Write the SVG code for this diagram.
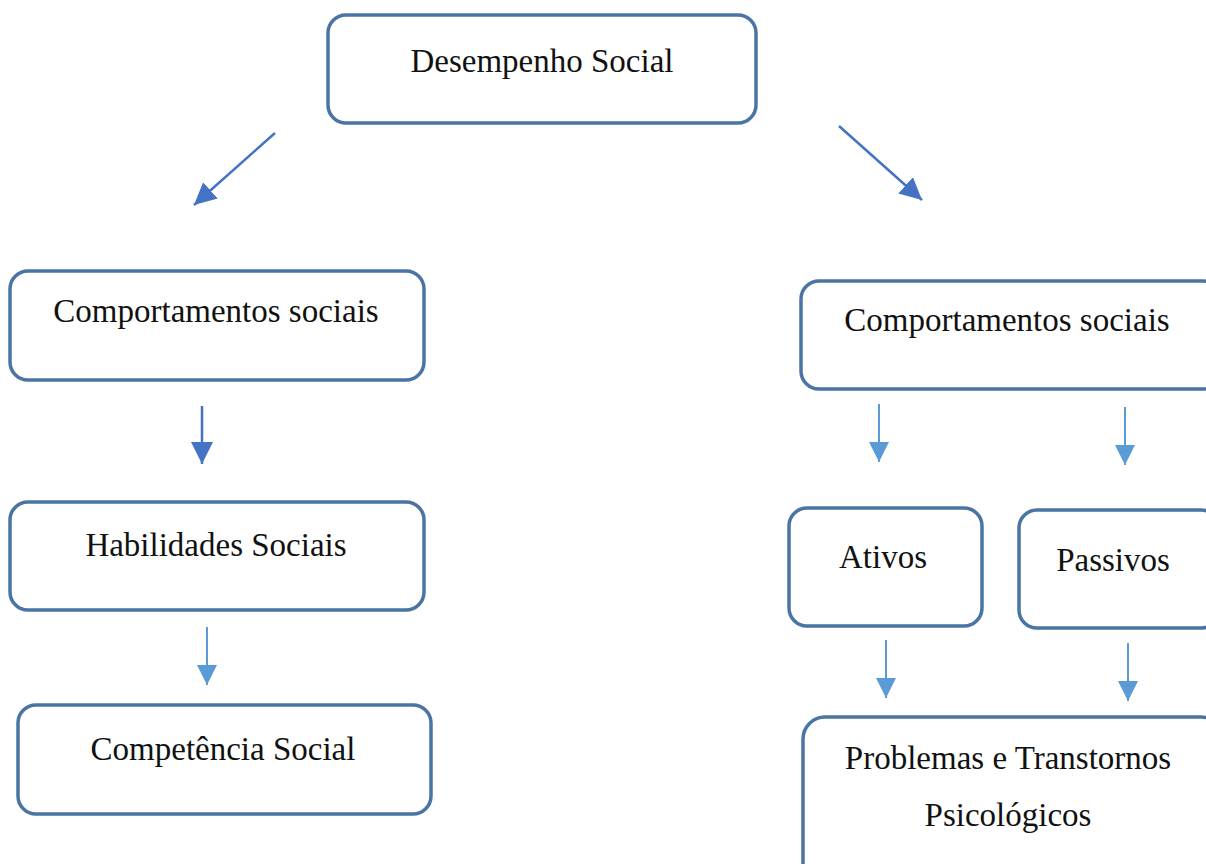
<svg xmlns="http://www.w3.org/2000/svg" width="1206" height="864" viewBox="0 0 1206 864">
<style>
.box{fill:#fff;stroke:#4a74a4;stroke-width:3.5}
.t{font-family:"Liberation Serif","Times New Roman",serif;font-size:33px;fill:#111;text-anchor:middle}
.a1{stroke:#4472c4;stroke-width:2.5;fill:none}
.a2{stroke:#5b9bd5;stroke-width:2;fill:none}
</style>
<defs>
<marker id="h1" viewBox="0 0 10 10" refX="10" refY="5" markerUnits="userSpaceOnUse" markerWidth="22" markerHeight="22" orient="auto"><path d="M0,0 L10,5 L0,10 z" fill="#4472c4"/></marker>
<marker id="h2" viewBox="0 0 10 10" refX="10" refY="5" markerUnits="userSpaceOnUse" markerWidth="20" markerHeight="20" orient="auto"><path d="M0,0 L10,5 L0,10 z" fill="#5b9bd5"/></marker>
</defs>
<rect width="1206" height="864" fill="#fff"/>
<g id="n-desempenho"><rect class="box" x="328" y="15" width="428" height="108" rx="18"/><text class="t" x="542" y="72">Desempenho Social</text></g>
<g id="n-comp-left"><rect class="box" x="10" y="271" width="414" height="109" rx="18"/><text class="t" x="216" y="322">Comportamentos sociais</text></g>
<g id="n-habilidades"><rect class="box" x="10" y="502" width="414" height="108" rx="18"/><text class="t" x="216" y="556">Habilidades Sociais</text></g>
<g id="n-competencia"><rect class="box" x="18" y="705" width="413" height="109" rx="18"/><text class="t" x="223" y="760">Competência Social</text></g>
<g id="n-comp-right"><rect class="box" x="801" y="281" width="420" height="108" rx="18"/><text class="t" x="1007" y="331">Comportamentos sociais</text></g>
<g id="n-ativos"><rect class="box" x="789" y="508" width="193" height="118" rx="18"/><text class="t" x="883" y="568">Ativos</text></g>
<g id="n-passivos"><rect class="box" x="1019" y="510" width="200" height="118" rx="18"/><text class="t" x="1113" y="571">Passivos</text></g>
<g id="n-problemas"><rect class="box" x="803" y="717" width="420" height="170" rx="22"/><text class="t" x="1008" y="769">Problemas e Transtornos</text><text class="t" x="1008" y="826">Psicológicos</text></g>
<g id="connectors">
<line class="a1" x1="275" y1="133" x2="194" y2="205" marker-end="url(#h1)"/>
<line class="a1" x1="839" y1="126" x2="922" y2="200" marker-end="url(#h1)"/>
<line class="a1" x1="202" y1="406" x2="202" y2="464" marker-end="url(#h1)"/>
<line class="a2" x1="207" y1="627" x2="207" y2="685" marker-end="url(#h2)"/>
<line class="a2" x1="879" y1="404" x2="879" y2="462" marker-end="url(#h2)"/>
<line class="a2" x1="1125" y1="407" x2="1125" y2="465" marker-end="url(#h2)"/>
<line class="a2" x1="886" y1="640" x2="886" y2="698" marker-end="url(#h2)"/>
<line class="a2" x1="1128" y1="643" x2="1128" y2="701" marker-end="url(#h2)"/>
</g>
</svg>
